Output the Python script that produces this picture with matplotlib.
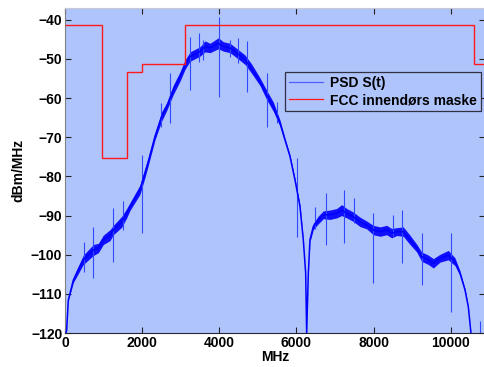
import matplotlib
matplotlib.use('Agg')
import matplotlib.pyplot as plt

# FCC indoor mask (step edges in MHz, level in dBm/MHz)
mask_edges = [0, 960, 1610, 1990, 3100, 10600, 10890]
mask_level = [-41.3, -75.3, -53.3, -51.3, -41.3, -51.3]

# PSD trace: centre line and half-width of the noise band
psd_freq = [25, 43, 86, 216, 302, 475, 735, 865, 994, 1167,
            1253, 1470, 1600, 1685, 1944, 2074, 2160, 2333, 2506, 2636,
            2808, 2982, 3111, 3241, 3500, 3630, 3760, 3976, 4104, 4278,
            4451, 4667, 4840, 5055, 5229, 5402, 5575, 5704, 5834, 5963,
            6093, 6179, 6240, 6266, 6309, 6352, 6438, 6568, 6697, 6870,
            7044, 7174, 7304, 7475, 7648, 7822, 7993, 8167, 8340, 8470,
            8600, 8771, 8945, 9118, 9248, 9420, 9549, 9723, 9938, 10111,
            10241, 10371, 10457, 10526]
psd_level = [-120, -119.2, -111.6, -106.5, -104.7, -101.3, -98.8, -98.3, -96.2, -95,
             -93.7, -91.6, -89.4, -87.7, -83.4, -79.1, -76.2, -69.8, -64.7, -62.2,
             -57.9, -54.5, -51.5, -49.4, -48.1, -46.8, -47.2, -46, -46.8, -47.2,
             -48.5, -50.2, -52.5, -55.8, -59.2, -62.2, -66.4, -70.7, -74.9, -80.9,
             -87.7, -96.2, -104.7, -120, -104.7, -96.2, -92.8, -91.1, -89.8, -89.8,
             -89.4, -88.6, -89.4, -90.3, -91.6, -92.4, -93.7, -94.1, -93.7, -94.5,
             -94.1, -94.1, -96.2, -98.3, -100.5, -101.3, -102.2, -100.9, -100.1, -101.8,
             -104.7, -109, -113.3, -120]
psd_spread = [0.1, 0.1, 0.2, 0.6, 0.9, 1.2, 1.4, 1.2, 1.2, 1.4,
              1.2, 1.4, 1.2, 1.0, 1.2, 1.2, 1.0, 0.9, 1.2, 1.0,
              1.2, 1.2, 1.2, 1.2, 1.2, 1.4, 1.2, 1.4, 1.2, 1.2,
              1.2, 1.2, 1.2, 1.0, 1.2, 1.2, 0.8, 0.5, 0.4, 0.4,
              0.4, 0.2, 0.1, 0.1, 0.2, 0.5, 0.8, 1.0, 1.0, 1.2,
              1.2, 1.4, 1.2, 1.2, 1.2, 1.0, 1.2, 1.2, 1.2, 1.2,
              1.0, 1.2, 1.2, 1.0, 1.2, 1.2, 1.2, 1.0, 1.2, 1.0,
              0.6, 0.4, 0.2, 0.1]

# isolated spikes in the trace
spike_freq = [493, 735, 1236, 1495, 1988, 2480, 2722, 3241, 3482, 3570,
              3984, 4278, 4494, 4727, 5245, 5488, 6007, 6495, 6759, 7242,
              7501, 7993, 8512, 8745, 9248, 10008, 10750]
spike_low = [-104.3, -106, -101.8, -93.7, -94.5, -67.3, -66.4, -57.9, -50.7, -50.2,
             -59.6, -49.4, -51, -58.5, -67.3, -66.4, -95.5, -93.5, -97.5, -97.1,
             -92, -107.3, -95.4, -102.2, -107.7, -114.6, -120]
spike_high = [-96.7, -92.8, -88.1, -86.4, -74.5, -61.3, -53.6, -44.3, -43.4, -45.1,
              -39.2, -45.1, -44.6, -45.5, -53.6, -60.9, -75.4, -87.7, -84.3, -83.5,
              -85.6, -89.4, -89.8, -88.6, -94.5, -94.5, -117]

x_ticks = [0, 2000, 4000, 6000, 8000, 10000]
y_ticks = [-120, -110, -100, -90, -80, -70, -60, -50, -40]

plt.rcParams['font.family'] = ['Liberation Sans', 'DejaVu Sans']
plt.rcParams['font.weight'] = 'bold'

fig = plt.figure(figsize=(4.85, 3.67), dpi=100, facecolor='white')
ax = fig.add_axes([0.134, 0.0926, 0.866, 0.8855])
ax.set_facecolor('#b0c4fc')

lower = [v - s for v, s in zip(psd_level, psd_spread)]
upper = [v + s for v, s in zip(psd_level, psd_spread)]
ax.fill_between(psd_freq, lower, upper, color='#1010ff', linewidth=0, zorder=2)
ax.vlines(spike_freq, spike_low, spike_high, color='#3048ff', linewidth=0.8, zorder=2)
psd_line, = ax.plot(psd_freq, psd_level, color='#0000ff', linewidth=1.1,
                    label='PSD S(t)', zorder=3)
ax.stairs(mask_level, mask_edges, baseline=None, color='#ff1a1a', linewidth=1.0,
          label='FCC innendørs maske', zorder=4)

ax.set_xlim(0, 10890)
ax.set_ylim(-120, -37)
ax.set_xticks(x_ticks)
ax.set_yticks(y_ticks)
ax.tick_params(direction='in', length=4, width=0.8, top=True, right=True,
               labelsize=10, colors='#222222', pad=2)
for lbl in ax.get_xticklabels() + ax.get_yticklabels():
    lbl.set_fontweight('bold')
    lbl.set_color('black')

ax.spines['left'].set_color('#808080')
ax.spines['top'].set_color('#c8c8d8')
ax.spines['bottom'].set_color('#262633')
ax.spines['right'].set_color('#262633')

ax.set_xlabel('MHz', fontsize=10, fontweight='bold', labelpad=0)
ax.set_ylabel('dBm/MHz', fontsize=10, fontweight='bold', labelpad=4)

leg = ax.legend(loc='upper right', bbox_to_anchor=(0.99, 0.803), borderaxespad=0,
                prop={'size': 10, 'weight': 'bold'}, fancybox=False,
                facecolor='#b0c4fc', edgecolor='#303040', framealpha=1,
                handlelength=2.4, handletextpad=0.5, borderpad=0.3,
                labelspacing=0.2)
leg.get_frame().set_linewidth(0.9)
for line in leg.get_lines():
    line.set_linewidth(0.9)
leg.get_lines()[0].set_color('#5060ff')

fig.savefig('out.png', dpi=100, facecolor=fig.get_facecolor())
